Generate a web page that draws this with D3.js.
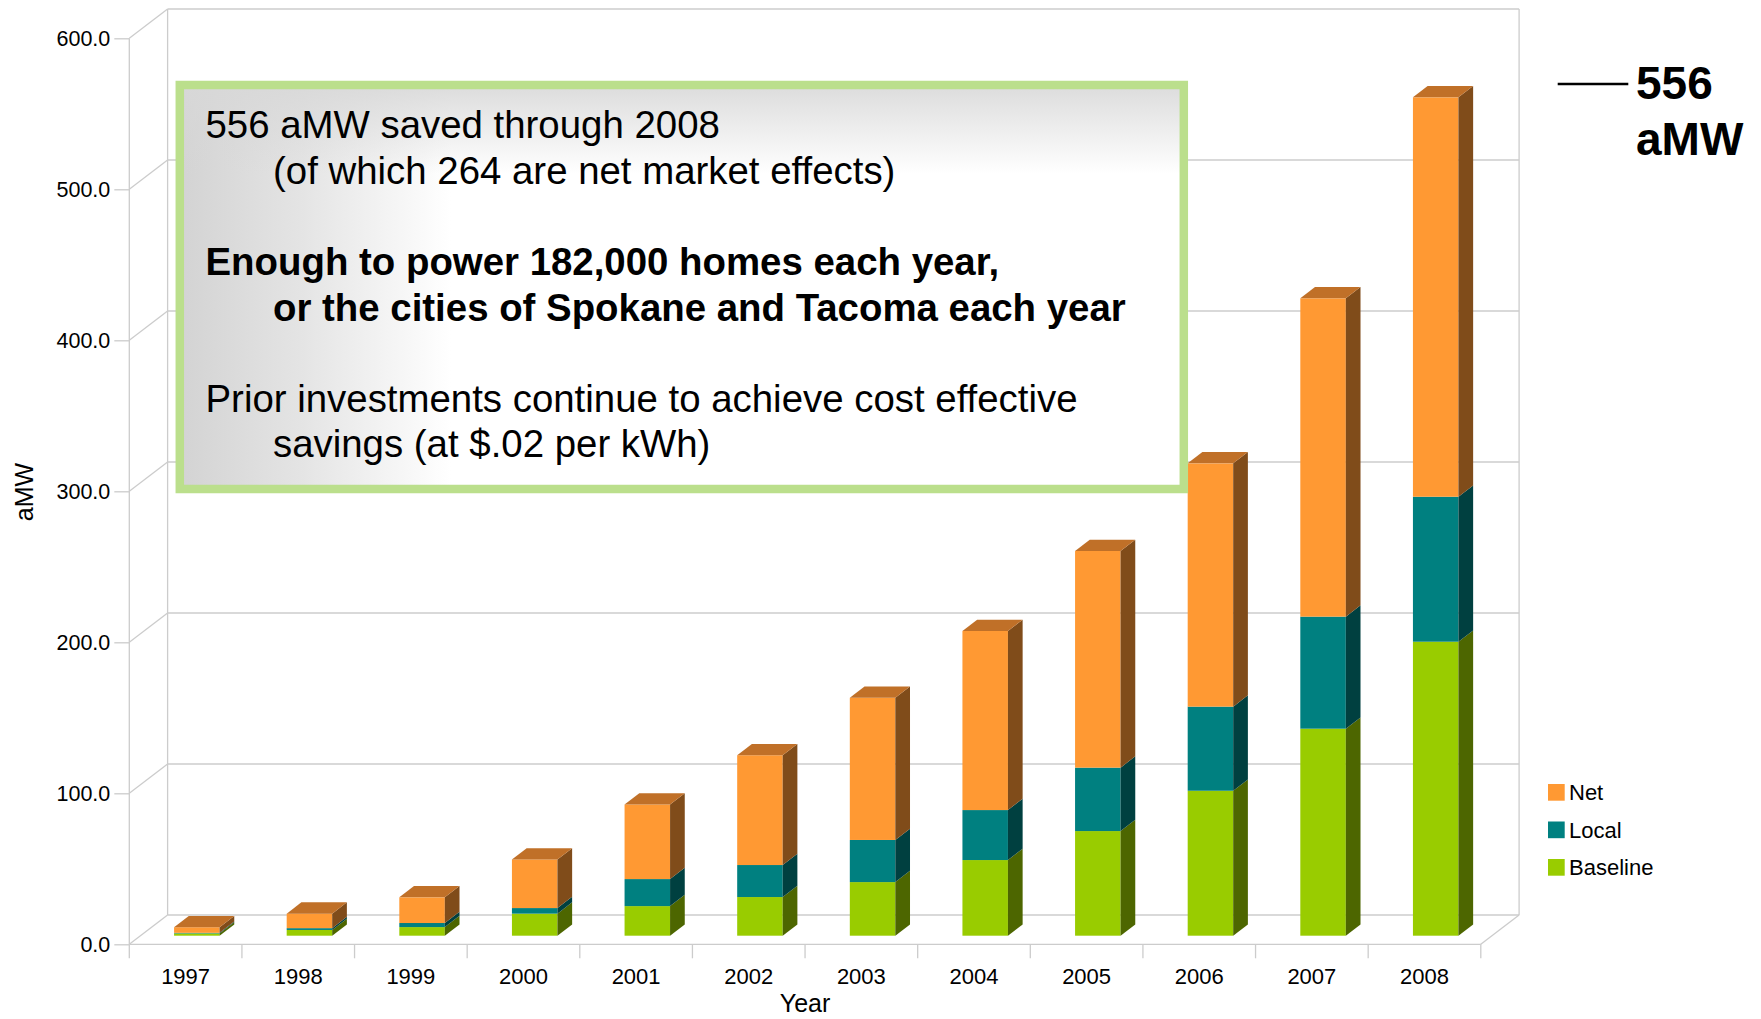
<!DOCTYPE html>
<html lang="en">
<head>
  <meta charset="UTF-8" />
  <title>aMW saved through 2008</title>
  <script src="https://d3js.org/d3.v7.min.js"></script>
  <style>
    body {
      margin: 0;
      background: #ffffff;
      font-family: 'Liberation Sans', Arial, sans-serif;
    }
    svg text { fill: #000; }
    .tick text { font-size: 21.5px; font-family: 'Liberation Sans', Arial, sans-serif; }
    .grid { stroke: #cccccc; stroke-width: 1.3; fill: none; }
  </style>
</head>
<body>
  <svg id="chart" width="1761" height="1019"></svg>

  <script>
    // Chart data (aMW)
    const years = ["1997", "1998", "1999", "2000", "2001", "2002",
                   "2003", "2004", "2005", "2006", "2007", "2008"];
    const baseline = [1.5, 3.8, 5.7, 14.6, 19.6, 25.6, 35.5, 50.1, 69.3, 96.0, 137.1, 194.7];
    const local    = [0.4, 1.2, 2.7, 3.7, 17.9, 21.2, 27.9, 33.1, 42.0, 55.7, 74.2, 96.0];
    const net      = [3.7, 9.6, 17.0, 32.2, 49.4, 72.7, 94.2, 118.6, 143.5, 161.1, 210.8, 264.5];
    const yTicks = [0, 100, 200, 300, 400, 500, 600];
    const legendLabels = ["Net", "Local", "Baseline"];

    const colors = {
      Net:      { front: "#ff9933", top: "#c07028", side: "#804c1a" },
      Local:    { front: "#008080", top: "#006060", side: "#004040" },
      Baseline: { front: "#99cc00", top: "#739900", side: "#4d6600" }
    };

    const svg = d3.select("#chart");

    // Front plane of the 3D box
    const x = d3.scaleBand().domain(years).range([129.3, 1480.8]);
    const xBar = d3.scaleBand().domain(years).range([129.3, 1480.8])
      .paddingInner(0.596).paddingOuter(0.298);
    const y = d3.scaleLinear().domain([0, 600]).range([944.3, 38.3]);

    // depth of the walls and of the bars
    const wall = { dx: 38.3, dy: 29.3 };
    const barShift = { dx: 11.2, dy: 8.6 };
    const barDepth = { dx: 14.7, dy: 11.3 };

    const xL = x.range()[0], xR = x.range()[1];
    const yBottom = y(0), yTop = y(600);

    // ---- walls and grid ----
    const walls = svg.append("g");
    // back wall horizontal gridlines
    walls.selectAll(".backgrid")
      .data(yTicks)
      .enter().append("line")
      .attr("class", "grid")
      .attr("x1", xL + wall.dx).attr("x2", xR + wall.dx)
      .attr("y1", d => y(d) - wall.dy).attr("y2", d => y(d) - wall.dy);
    // left wall diagonals
    walls.selectAll(".sidegrid")
      .data(yTicks)
      .enter().append("line")
      .attr("class", "grid")
      .attr("x1", xL).attr("x2", xL + wall.dx)
      .attr("y1", d => y(d)).attr("y2", d => y(d) - wall.dy);
    // back wall verticals
    walls.append("line").attr("class", "grid")
      .attr("x1", xL + wall.dx).attr("x2", xL + wall.dx)
      .attr("y1", yTop - wall.dy).attr("y2", yBottom - wall.dy);
    walls.append("line").attr("class", "grid")
      .attr("x1", xR + wall.dx).attr("x2", xR + wall.dx)
      .attr("y1", yTop - wall.dy).attr("y2", yBottom - wall.dy);
    // floor front edge and right diagonal
    walls.append("line").attr("class", "grid")
      .attr("x1", xL).attr("x2", xR)
      .attr("y1", yBottom).attr("y2", yBottom);
    walls.append("line").attr("class", "grid")
      .attr("x1", xR).attr("x2", xR + wall.dx)
      .attr("y1", yBottom).attr("y2", yBottom - wall.dy);
    // front vertical axis (runs down into the first category tick)
    walls.append("line").attr("class", "grid")
      .attr("x1", xL).attr("x2", xL)
      .attr("y1", yTop).attr("y2", yBottom + 14);

    // category boundary ticks
    walls.selectAll(".xtick")
      .data(years.slice(1).map(d => x(d)).concat([xR]))
      .enter().append("line")
      .attr("class", "grid")
      .attr("x1", d => d).attr("x2", d => d)
      .attr("y1", yBottom).attr("y2", yBottom + 14);

    // y axis ticks and labels
    const yAxis = d3.axisLeft(y)
      .tickValues(yTicks)
      .tickFormat(d3.format(".1f"))
      .tickSize(15)
      .tickPadding(4);
    const yg = svg.append("g")
      .attr("transform", `translate(${xL},0)`)
      .call(yAxis);
    yg.select(".domain").remove();
    yg.selectAll(".tick line").attr("stroke", "#cccccc").attr("stroke-width", 1.3);

    // x labels
    svg.append("g").selectAll("text")
      .data(years)
      .enter().append("text")
      .attr("x", d => x(d) + x.bandwidth() / 2)
      .attr("y", yBottom + 40)
      .attr("text-anchor", "middle")
      .style("font-size", "22px")
      .text(d => d);

    // axis titles
    svg.append("text")
      .attr("x", (xL + xR) / 2)
      .attr("y", 1012)
      .attr("text-anchor", "middle")
      .style("font-size", "25px")
      .text("Year");
    svg.append("text")
      .attr("transform", "translate(33,492) rotate(-90)")
      .attr("text-anchor", "middle")
      .style("font-size", "25px")
      .text("aMW");

    // ---- stacked 3D bars ----
    const table = years.map((yr, i) => ({
      year: yr, Baseline: baseline[i], Local: local[i], Net: net[i]
    }));
    const stacked = d3.stack().keys(["Baseline", "Local", "Net"])(table);
    const yb = v => y(v) - barShift.dy;

    const bars = svg.append("g");
    years.forEach((yr, i) => {
      const g = bars.append("g");
      const x0 = xBar(yr) + barShift.dx;
      const x1 = x0 + xBar.bandwidth();
      stacked.forEach((layer, li) => {
        const seg = layer[i];
        const c = colors[layer.key];
        const top = yb(seg[1]), bot = yb(seg[0]);
        g.append("rect")
          .attr("x", x0).attr("y", top)
          .attr("width", x1 - x0).attr("height", Math.max(0, bot - top))
          .attr("fill", c.front);
        g.append("polygon")
          .attr("points", [[x1, bot], [x1 + barDepth.dx, bot - barDepth.dy],
                           [x1 + barDepth.dx, top - barDepth.dy], [x1, top]].join(" "))
          .attr("fill", c.side);
        if (li === stacked.length - 1) {
          g.append("polygon")
            .attr("points", [[x0, top], [x0 + barDepth.dx, top - barDepth.dy],
                             [x1 + barDepth.dx, top - barDepth.dy], [x1, top]].join(" "))
            .attr("fill", c.top);
        }
      });
    });

    // ---- text box ----
    const defs = svg.append("defs");
    const gradH = defs.append("linearGradient").attr("id", "boxH")
      .attr("x1", "0").attr("x2", "1").attr("y1", "0").attr("y2", "0");
    gradH.append("stop").attr("offset", "0%").attr("stop-color", "#d3d3d3");
    gradH.append("stop").attr("offset", "12%").attr("stop-color", "#e4e4e4");
    gradH.append("stop").attr("offset", "27%").attr("stop-color", "#ffffff");
    gradH.append("stop").attr("offset", "100%").attr("stop-color", "#ffffff");
    const gradV = defs.append("linearGradient").attr("id", "boxV")
      .attr("x1", "0").attr("x2", "0").attr("y1", "0").attr("y2", "1");
    gradV.append("stop").attr("offset", "0%").attr("stop-color", "#d8d8d8").attr("stop-opacity", 0.9);
    gradV.append("stop").attr("offset", "22%").attr("stop-color", "#d8d8d8").attr("stop-opacity", 0);

    const box = { x: 179.8, y: 85, w: 1004, h: 404 };
    svg.append("rect")
      .attr("x", box.x).attr("y", box.y).attr("width", box.w).attr("height", box.h)
      .attr("fill", "url(#boxH)");
    svg.append("rect")
      .attr("x", box.x).attr("y", box.y).attr("width", box.w).attr("height", box.h)
      .attr("fill", "url(#boxV)")
      .attr("stroke", "#bbdf8c").attr("stroke-width", 8.5);

    const boxLines = [
      { t: "556 aMW saved through 2008", x: 205.5, y: 138, bold: false },
      { t: "(of which 264 are net market effects)", x: 273, y: 183.5, bold: false },
      { t: "Enough to power 182,000 homes each year,", x: 205.5, y: 275, bold: true },
      { t: "or the cities of Spokane and Tacoma each year", x: 273, y: 320.5, bold: true },
      { t: "Prior investments continue to achieve cost effective", x: 205.5, y: 412, bold: false },
      { t: "savings (at $.02 per kWh)", x: 273, y: 457, bold: false }
    ];
    svg.append("g").selectAll("text")
      .data(boxLines)
      .enter().append("text")
      .attr("x", d => d.x).attr("y", d => d.y)
      .style("font-size", "38.4px")
      .style("font-weight", d => d.bold ? "bold" : "normal")
      .text(d => d.t);

    // ---- 556 aMW callout ----
    svg.append("line")
      .attr("x1", 1557.7).attr("x2", 1628.3)
      .attr("y1", 84).attr("y2", 84)
      .attr("stroke", "#000").attr("stroke-width", 2.5);
    svg.append("text").attr("x", 1636).attr("y", 99)
      .style("font-size", "46px").style("font-weight", "bold").text("556");
    svg.append("text").attr("x", 1636).attr("y", 155)
      .style("font-size", "46px").style("font-weight", "bold").text("aMW");

    // ---- legend ----
    const legend = svg.append("g").attr("transform", "translate(1548,784)");
    const item = legend.selectAll("g")
      .data(legendLabels)
      .enter().append("g")
      .attr("transform", (d, i) => `translate(0,${i * 37.5})`);
    item.append("rect")
      .attr("width", 16.7).attr("height", 16.7)
      .attr("fill", d => colors[d].front);
    item.append("text")
      .attr("x", 21).attr("y", 16)
      .style("font-size", "22px")
      .text(d => d);
  </script>
</body>
</html>
